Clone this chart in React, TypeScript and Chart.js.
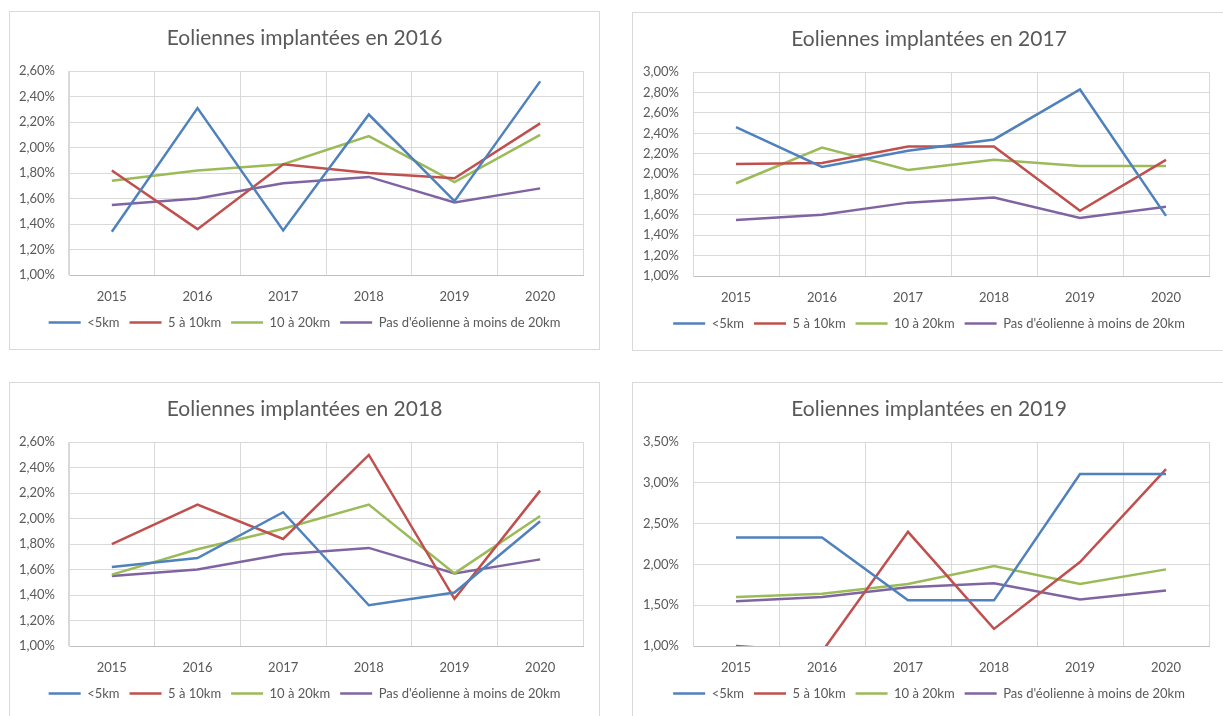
import React, { useEffect, useRef } from 'react';
import { Chart, registerables } from 'chart.js';

Chart.register(...registerables);

// ---------- DATA ----------
const years = ['2015', '2016', '2017', '2018', '2019', '2020'];
const seriesNames = ['<5km', '5 à 10km', '10 à 20km', "Pas d'éolienne à moins de 20km"];
const seriesColors = ['#4F81BD', '#C0504D', '#9BBB59', '#8064A2'];

const chartTitles = [
  'Eoliennes implantées en 2016',
  'Eoliennes implantées en 2017',
  'Eoliennes implantées en 2018',
  'Eoliennes implantées en 2019',
];
const yMins = [1.0, 1.0, 1.0, 1.0];
const yMaxs = [2.6, 3.0, 2.6, 3.5];
const ySteps = [0.2, 0.2, 0.2, 0.5];

const under5km2016 = [1.34, 2.31, 1.35, 2.26, 1.58, 2.52];
const from5to10km2016 = [1.82, 1.36, 1.87, 1.80, 1.76, 2.19];
const from10to20km2016 = [1.74, 1.82, 1.87, 2.09, 1.73, 2.10];

const under5km2017 = [2.46, 2.07, 2.23, 2.34, 2.83, 1.59];
const from5to10km2017 = [2.10, 2.11, 2.27, 2.27, 1.64, 2.14];
const from10to20km2017 = [1.91, 2.26, 2.04, 2.14, 2.08, 2.08];

const under5km2018 = [1.62, 1.69, 2.05, 1.32, 1.42, 1.98];
const from5to10km2018 = [1.80, 2.11, 1.84, 2.50, 1.37, 2.22];
const from10to20km2018 = [1.56, 1.76, 1.92, 2.11, 1.57, 2.02];

const under5km2019 = [2.33, 2.33, 1.56, 1.56, 3.11, 3.11];
const from5to10km2019 = [1.00, 0.93, 2.40, 1.21, 2.03, 3.17];
const from10to20km2019 = [1.60, 1.64, 1.76, 1.98, 1.76, 1.94];

const noTurbineWithin20km = [1.55, 1.60, 1.72, 1.77, 1.57, 1.68];

const chartSeries = [
  [under5km2016, from5to10km2016, from10to20km2016, noTurbineWithin20km],
  [under5km2017, from5to10km2017, from10to20km2017, noTurbineWithin20km],
  [under5km2018, from5to10km2018, from10to20km2018, noTurbineWithin20km],
  [under5km2019, from5to10km2019, from10to20km2019, noTurbineWithin20km],
];

// ---------- LAYOUT ----------
const frames = [
  { left: 9, top: 11, width: 591, height: 339, yWidth: 59 },
  { left: 632, top: 12, width: 594, height: 339, yWidth: 60 },
  { left: 9, top: 382, width: 591, height: 339, yWidth: 59 },
  { left: 632, top: 382, width: 594, height: 339, yWidth: 60 },
];

const FONT = 'Lato, "Open Sans", sans-serif';
const TEXT = '#595959';

function LineChart({ idx }: { idx: number }) {
  const ref = useRef<HTMLCanvasElement | null>(null);
  const f = frames[idx];
  const cw = f.width - 2;
  const ch = f.height - 2;

  useEffect(() => {
    if (!ref.current) return;
    const chart = new Chart(ref.current, {
      type: 'line',
      data: {
        labels: years,
        datasets: chartSeries[idx].map((d, i) => ({
          label: seriesNames[i],
          data: d,
          yAxisID: 'y',
          borderColor: seriesColors[i],
          backgroundColor: seriesColors[i],
          borderWidth: 2.5,
          pointRadius: 0,
          pointHoverRadius: 0,
          tension: 0,
          fill: false,
          clip: 0,
        })),
      },
      options: {
        animation: false,
        responsive: false,
        maintainAspectRatio: false,
        layout: { padding: { left: 0, right: 0, top: 0, bottom: 10 } },
        plugins: {
          title: {
            display: true,
            text: chartTitles[idx],
            color: TEXT,
            font: { family: FONT, size: 21, weight: 'normal' },
            padding: { top: 14, bottom: 20 },
          },
          legend: {
            position: 'bottom',
            labels: {
              color: TEXT,
              font: { family: FONT, size: 13 },
              usePointStyle: true,
              pointStyle: 'line',
              pointStyleWidth: 32,
              padding: 10,
            },
          },
          tooltip: { enabled: false },
        },
        scales: {
          x: {
            offset: true,
            grid: { color: '#d9d9d9', offset: true, drawTicks: false, lineWidth: 1 },
            border: { color: '#bfbfbf' },
            ticks: { color: TEXT, font: { family: FONT, size: 13 }, padding: 14, maxRotation: 0 },
            afterFit: (s: any) => { s.height = 31; },
          },
          y: {
            min: yMins[idx],
            max: yMaxs[idx],
            grid: { color: '#d9d9d9', drawTicks: false, lineWidth: 1 },
            border: { color: '#d9d9d9' },
            ticks: {
              stepSize: ySteps[idx],
              color: TEXT,
              font: { family: FONT, size: 13 },
              padding: 14,
              callback: (v: any) => Number(v).toFixed(2).replace('.', ',') + '%',
            },
            afterFit: (s: any) => { s.width = f.yWidth; },
          },
          rightGap: {
            type: 'linear',
            position: 'right',
            display: true,
            grid: { display: false, drawTicks: false },
            border: { display: false },
            ticks: { display: false },
            afterFit: (s: any) => { s.width = 16; },
          },
        },
      },
    } as any);
    return () => chart.destroy();
  }, [idx]);

  return (
    <div
      style={{
        position: 'absolute',
        left: f.left,
        top: f.top,
        width: f.width,
        height: f.height,
        border: '1px solid #d9d9d9',
        boxSizing: 'border-box',
        background: '#fff',
      }}
    >
      <canvas ref={ref} width={cw} height={ch} style={{ display: 'block', width: cw, height: ch }} />
    </div>
  );
}

export default function App() {
  return (
    <div
      style={{
        position: 'fixed',
        left: 0,
        top: 0,
        width: 1223,
        height: 716,
        overflow: 'hidden',
        background: '#fff',
      }}
    >
      {[0, 1, 2, 3].map((i) => (
        <LineChart key={i} idx={i} />
      ))}
    </div>
  );
}
